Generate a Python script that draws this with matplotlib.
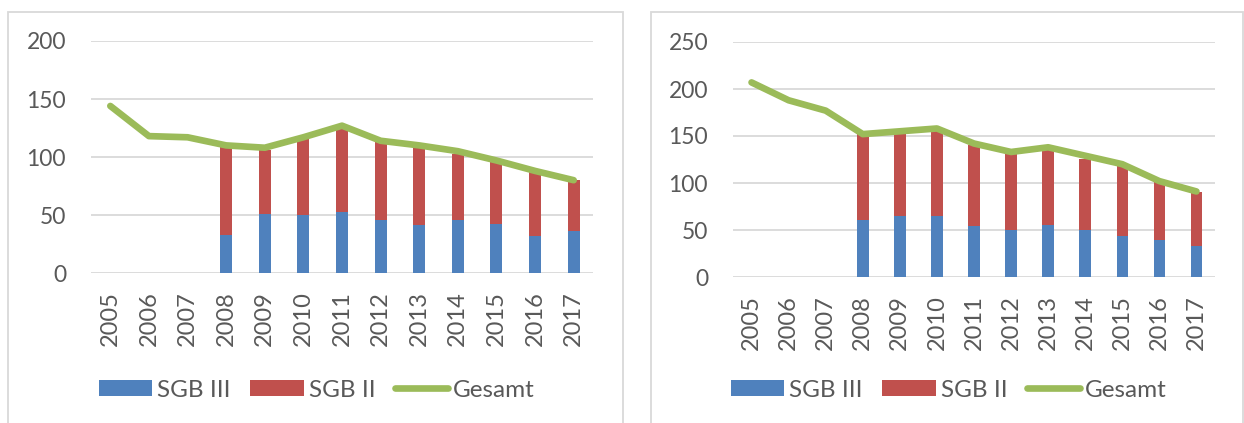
import numpy as np
import matplotlib
matplotlib.use("Agg")
import matplotlib.pyplot as plt
from matplotlib.patches import Rectangle

# ----- data -----
years = ["2005", "2006", "2007", "2008", "2009", "2010", "2011",
         "2012", "2013", "2014", "2015", "2016", "2017"]

# left chart
left_sgb3 = [np.nan, np.nan, np.nan, 32.5, 51, 50, 53, 46, 41, 46, 42, 32, 36]
left_sgb2 = [np.nan, np.nan, np.nan, 76.5, 55, 66, 73, 67, 67, 57, 54, 55, 44]
left_total = [144, 118, 117, 110, 108, 117, 127, 114, 110, 105, 97, 88, 80]

# right chart
right_sgb3 = [np.nan, np.nan, np.nan, 61, 64.5, 64.5, 54.5, 49.5, 55, 50, 44, 39.5, 33]
right_sgb2 = [np.nan, np.nan, np.nan, 91, 89.5, 92.5, 85.5, 81.5, 81, 76, 74, 61.5, 57.5]
right_total = [207, 188, 177, 152, 155, 158, 142, 133, 138, 129, 120, 102, 91]

legend_labels = ["SGB III", "SGB II", "Gesamt"]

# ----- style -----
BLUE = "#4F81BD"
RED = "#C0504D"
GREEN = "#9BBB59"
GRID = "#D9D9D9"
TEXT = "#595959"

W, H = 1244, 423
plt.rcParams["font.family"] = ["Lato", "DejaVu Sans"]


def px(x, y):
    # pixel position (from top left) -> figure fraction
    return x / W, 1 - y / H


def draw_panel(fig, rect, sgb3, sgb2, total, ymax, legend_x):
    ax = fig.add_axes(rect)
    x = np.arange(len(years))
    b3 = ax.bar(x, sgb3, width=0.31, color=BLUE, zorder=2)
    b2 = ax.bar(x, sgb2, width=0.31, bottom=sgb3, color=RED, zorder=2)
    ln, = ax.plot(x, total, color=GREEN, lw=4.8, zorder=3, solid_capstyle="round",
                  solid_joinstyle="round")

    ax.set_xlim(-0.5, len(years) - 0.5)
    ax.set_ylim(0, ymax)
    ax.set_yticks(np.arange(0, ymax + 1, 50))
    ax.set_xticks(x)
    ax.set_xticklabels(years, rotation=90, fontsize=17, color=TEXT)
    ax.tick_params(axis="y", labelsize=16.5, labelcolor=TEXT, length=0, pad=18)
    ax.tick_params(axis="x", length=0, pad=13)
    ax.grid(axis="y", color=GRID, lw=1.3, zorder=0)
    ax.set_axisbelow(True)
    for s in ax.spines.values():
        s.set_visible(False)

    fig.legend([b3, b2, ln], legend_labels, loc="center left",
               bbox_to_anchor=px(legend_x, 390), ncol=3, frameon=False,
               fontsize=17.5, labelcolor=TEXT, borderpad=0, borderaxespad=0,
               handlelength=2.2, handleheight=0.62, handletextpad=0.2,
               columnspacing=0.8)
    return ax


def main_proc():
    fig = plt.figure(figsize=(W / 100, H / 100), dpi=100)

    # outer frames
    fig.add_artist(Rectangle(px(8, 440), 615 / W, 428 / H, transform=fig.transFigure,
                             fill=False, edgecolor=GRID, lw=1.3))
    fig.add_artist(Rectangle(px(651, 440), 592 / W, 428 / H, transform=fig.transFigure,
                             fill=False, edgecolor=GRID, lw=1.3))

    draw_panel(fig, [91 / W, 1 - 273 / H, 502 / W, 232 / H],
               left_sgb3, left_sgb2, left_total, 200, 99)
    draw_panel(fig, [733 / W, 1 - 277 / H, 482 / W, 235 / H],
               right_sgb3, right_sgb2, right_total, 250, 731)

    fig.savefig("out.png", dpi=100)


if __name__ == '__main__':
    main_proc()
